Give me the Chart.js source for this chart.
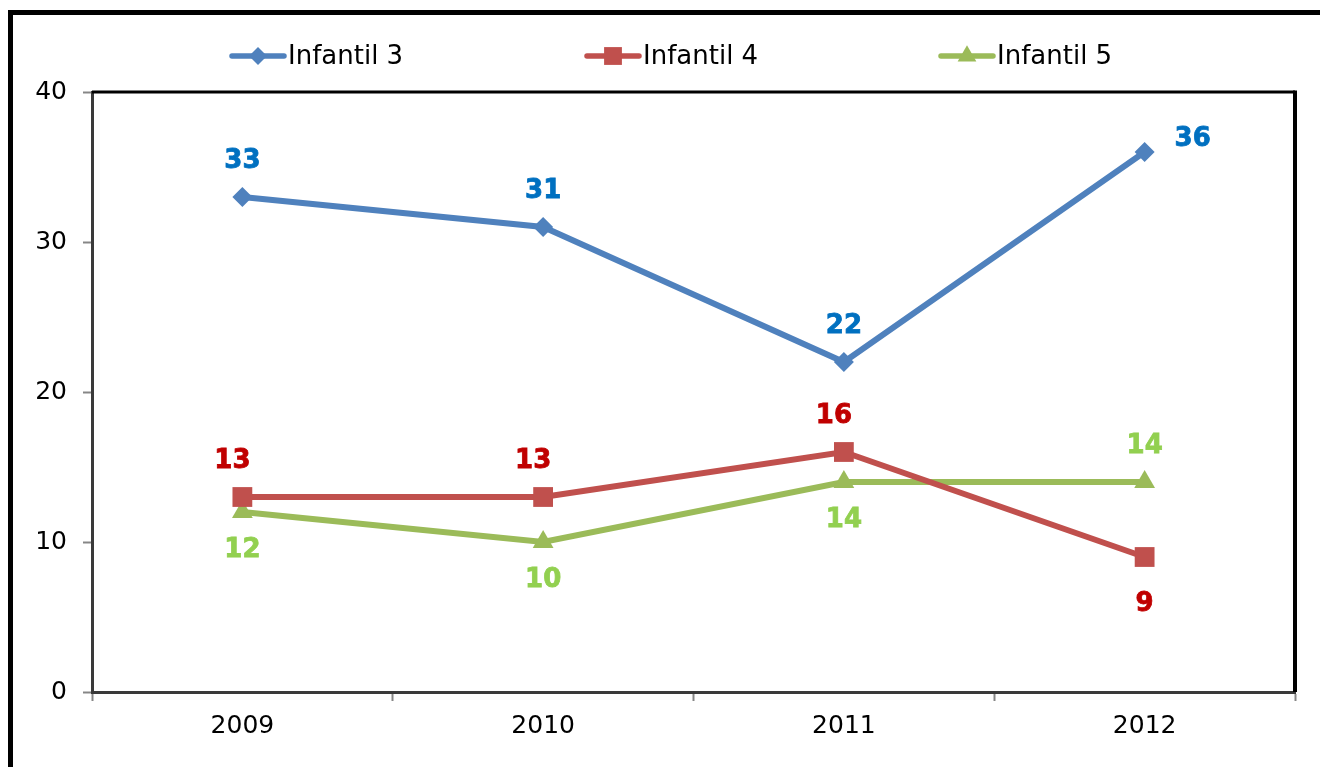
<!DOCTYPE html>
<html>
<head>
<meta charset="utf-8">
<script src="https://cdn.jsdelivr.net/npm/chart.js@4.4.0/dist/chart.umd.min.js"></script>
<style>
  html, body { margin: 0; padding: 0; background: #fff; overflow: hidden; }
  #frame { position: absolute; left: 8px; top: 10px; width: 1400px; height: 900px; border: 5px solid #000; box-sizing: border-box; }
  #wrap { position: absolute; left: 0; top: 0; width: 1320px; height: 767px; }
</style>
</head>
<body>
<div id="frame"></div>
<div id="wrap"><canvas id="chart"></canvas></div>
<script>
// datos
const years = ['2009', '2010', '2011', '2012'];
const infantil3 = [33, 31, 22, 36];
const infantil4 = [13, 13, 16, 9];
const infantil5 = [12, 10, 14, 14];
const yTicks = [0, 10, 20, 30, 40];

// dónde va cada etiqueta de valor
const pos3 = ['top', 'top', 'top', 'right'];
const pos4 = ['top', 'top', 'top', 'bottom'];
const pos5 = ['bottom', 'bottom', 'bottom', 'top'];

const series = [
  { label: 'Infantil 3', data: infantil3, color: '#4F81BD', text: '#0070C0', style: 'rectRot', radius: 10, pos: pos3, legendX: 230 },
  { label: 'Infantil 4', data: infantil4, color: '#C0504D', text: '#C00000', style: 'rect', radius: 14, pos: pos4, legendX: 585 },
  { label: 'Infantil 5', data: infantil5, color: '#9BBB59', text: '#92D050', style: 'triangle', radius: 12, pos: pos5, legendX: 939 }
];

const FONT = '"DejaVu Sans", Verdana, sans-serif';

const extras = {
  id: 'extras',
  afterDraw(chart) {
    const ctx = chart.ctx;
    const a = chart.chartArea;
    ctx.save();
    // borde superior y derecho del área de trazado
    ctx.strokeStyle = '#000';
    ctx.lineWidth = 3;
    ctx.beginPath();
    ctx.moveTo(a.left, a.top);
    ctx.lineTo(a.right, a.top);
    ctx.stroke();
    ctx.lineWidth = 4;
    ctx.beginPath();
    ctx.moveTo(a.right, a.top - 1.5);
    ctx.lineTo(a.right, a.bottom);
    ctx.stroke();

    // etiquetas de datos
    ctx.font = 'bold 26px ' + FONT;
    ctx.textAlign = 'center';
    ctx.textBaseline = 'middle';
    ctx.lineWidth = 0.8;
    chart.data.datasets.forEach((ds, i) => {
      const s = series[i];
      chart.getDatasetMeta(i).data.forEach((pt, j) => {
        let x = pt.x, y = pt.y;
        const p = s.pos[j];
        if (p === 'top') { y -= 36; if (i === 1) x -= 10; }
        else if (p === 'bottom') y += 38;
        else if (p === 'right') { x += 48; y -= 13; }
        if (i === 1 && p === 'bottom') y += 9;
        ctx.fillStyle = s.text;
        ctx.strokeStyle = s.text;
        ctx.fillText(String(ds.data[j]), x, y);
        ctx.strokeText(String(ds.data[j]), x, y);
      });
    });

    // leyenda
    ctx.font = '26px ' + FONT;
    ctx.textAlign = 'left';
    series.forEach(s => {
      const y = 56;
      ctx.strokeStyle = s.color;
      ctx.lineWidth = 5.5;
      ctx.lineCap = 'round';
      ctx.beginPath();
      ctx.moveTo(s.legendX + 2, y);
      ctx.lineTo(s.legendX + 54, y);
      ctx.stroke();
      ctx.fillStyle = s.color;
      Chart.helpers.drawPoint(ctx, { pointStyle: s.style, radius: s.radius * 0.9, borderWidth: 0 }, s.legendX + 28, y);
      ctx.fillStyle = '#000';
      ctx.fillText(s.label, s.legendX + 58, y + 1);
    });
    ctx.restore();
  }
};

new Chart(document.getElementById('chart'), {
  type: 'line',
  data: {
    labels: years,
    datasets: series.map(s => ({
      label: s.label,
      data: s.data,
      borderColor: s.color,
      backgroundColor: s.color,
      borderWidth: 6,
      pointStyle: s.style,
      pointRadius: s.radius,
      pointHoverRadius: s.radius,
      pointBorderWidth: 0,
      tension: 0
    }))
  },
  options: {
    responsive: true,
    maintainAspectRatio: false,
    animation: false,
    layout: { padding: { top: 92, right: 25, left: 0, bottom: 0 } },
    plugins: { legend: { display: false }, tooltip: { enabled: false } },
    scales: {
      x: {
        offset: true,
        grid: { offset: true, drawOnChartArea: false, tickLength: 9, tickColor: '#868686', tickWidth: 2 },
        border: { color: '#3a3a3a', width: 3 },
        ticks: { color: '#000', font: { family: FONT, size: 25 }, padding: 10 },
        afterFit(scale) { scale.height = 75; }
      },
      y: {
        min: 0,
        max: 40,
        afterBuildTicks(scale) { scale.ticks = yTicks.map(v => ({ value: v })); },
        grid: { drawOnChartArea: false, tickLength: 9, tickColor: '#868686', tickWidth: 2 },
        border: { color: '#3a3a3a', width: 3 },
        ticks: { color: '#000', font: { family: FONT, size: 25 }, padding: 16 },
        afterFit(scale) { scale.width = 92; }
      }
    }
  },
  plugins: [extras]
});
</script>
</body>
</html>
